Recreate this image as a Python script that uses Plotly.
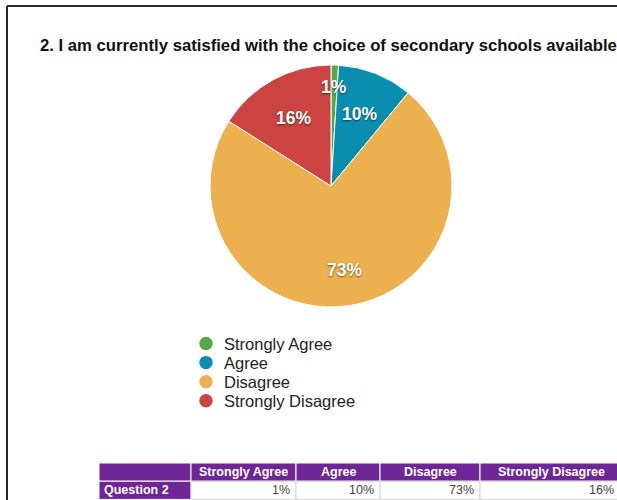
import math
import plotly.graph_objects as go

# Survey responses for question 2
categories = ["Strongly Agree", "Agree", "Disagree", "Strongly Disagree"]
percentages = [1, 10, 73, 16]
colors = ["#52A94A", "#0A8EAF", "#EDB04E", "#CB4441"]
row_label = "Question 2"
title_text = "2. I am currently satisfied with the choice of secondary schools available"

# Radial position (fraction of radius) of each slice's percentage label
label_radius = [0.82, 0.64, 0.70, 0.645]

W, H = 617, 500
PURPLE = "#6E2596"
FONT = "Liberation Sans, Arial, Helvetica, sans-serif"
SHADOW = "0px 1px 2px rgba(0,0,0,0.55)"

# Pie placement in pixels
CX, CY, R = 331, 186, 121

# Legend layout in pixels
LEG_DOT_X, LEG_TEXT_X, LEG_TOP, LEG_STEP, LEG_DOT_R = 206, 222, 343.5, 19.1, 6.7

# Table layout in pixels
TBL_X, TBL_Y, ROW_H = 99, 463, 18.2
COL_W = [92, 105, 84, 100, 142]


def px(x):
    return x / W


def py(y):
    return 1 - y / H


fig = go.Figure()

fig.add_trace(go.Pie(
    labels=categories,
    values=percentages,
    marker=dict(colors=colors, line=dict(color="white", width=1)),
    sort=False,
    direction="clockwise",
    rotation=0,
    textinfo="none",
    showlegend=False,
    hoverinfo="label+percent",
    domain=dict(x=[px(CX - R), px(CX + R)], y=[py(CY + R), py(CY - R)]),
))

# Percentage labels at each slice's mid-angle
total = sum(percentages)
cum = 0.0
for p, rf in zip(percentages, label_radius):
    mid = (cum + p / 2) / total
    cum += p
    ang = 2 * math.pi * mid
    lx = CX + rf * R * math.sin(ang)
    ly = CY - rf * R * math.cos(ang)
    fig.add_annotation(
        x=px(lx), y=py(ly), xref="paper", yref="paper",
        xanchor="center", yanchor="middle",
        text=f"{round(100 * p / total)}%", showarrow=False,
        font=dict(family=FONT, size=17.5, color="white", weight="bold", shadow=SHADOW),
    )

# Legend: round swatches with labels
for i, (name, col) in enumerate(zip(categories, colors)):
    yc = LEG_TOP + i * LEG_STEP
    fig.add_shape(type="circle", xref="paper", yref="paper",
                  x0=px(LEG_DOT_X - LEG_DOT_R), x1=px(LEG_DOT_X + LEG_DOT_R),
                  y0=py(yc + LEG_DOT_R), y1=py(yc - LEG_DOT_R),
                  fillcolor=col, line=dict(width=0))
    fig.add_annotation(
        x=px(LEG_TEXT_X), y=py(yc + 0.5), xref="paper", yref="paper",
        xanchor="left", yanchor="middle", text=name, showarrow=False,
        font=dict(family=FONT, size=16.5, color="#222222"),
    )

# Summary table: header row and one data row
header = [""] + categories
row = [row_label] + [f"{p}%" for p in percentages]
x_edges = [TBL_X]
for w in COL_W:
    x_edges.append(x_edges[-1] + w)

for j in range(len(header)):
    x0, x1 = x_edges[j], x_edges[j + 1]
    # header cell
    fig.add_shape(type="rect", xref="paper", yref="paper",
                  x0=px(x0), x1=px(x1), y0=py(TBL_Y + ROW_H), y1=py(TBL_Y),
                  fillcolor=PURPLE, line=dict(color="white", width=1), layer="below")
    if header[j]:
        fig.add_annotation(
            x=px((x0 + x1) / 2), y=py(TBL_Y + ROW_H / 2), xref="paper", yref="paper",
            xanchor="center", yanchor="middle", text=f"<b>{header[j]}</b>",
            showarrow=False, font=dict(family=FONT, size=12.5, color="white"),
        )
    # data cell
    first = j == 0
    fig.add_shape(type="rect", xref="paper", yref="paper",
                  x0=px(x0), x1=px(x1), y0=py(TBL_Y + 2 * ROW_H), y1=py(TBL_Y + ROW_H),
                  fillcolor=PURPLE if first else "white",
                  line=dict(color="white" if first else "#d6d6d6", width=1), layer="below")
    fig.add_annotation(
        x=px(x0 + 3 if first else min(x1 - 4, W - 1)),
        y=py(TBL_Y + 1.5 * ROW_H), xref="paper", yref="paper",
        xanchor="left" if first else "right", yanchor="middle",
        text=f"<b>{row[j]}</b>" if first else row[j], showarrow=False,
        font=dict(family=FONT, size=12.5, color="white" if first else "#444444"),
    )

# Title
fig.add_annotation(
    x=px(38), y=py(46), xref="paper", yref="paper",
    xanchor="left", yanchor="middle", text=f"<b>{title_text}</b>",
    showarrow=False, font=dict(family=FONT, size=16.7, color="#111111"),
)

# Page frame on the left and top
fig.add_shape(type="line", xref="paper", yref="paper",
              x0=px(7), x1=px(7), y0=0, y1=py(6),
              line=dict(color="#2a2a2a", width=2))
fig.add_shape(type="line", xref="paper", yref="paper",
              x0=px(7), x1=1, y0=py(6), y1=py(6),
              line=dict(color="#2a2a2a", width=2))

fig.update_layout(
    width=W, height=H,
    margin=dict(l=0, r=0, t=0, b=0),
    paper_bgcolor="white", plot_bgcolor="white",
    showlegend=False,
)

fig.write_html("out.html")
